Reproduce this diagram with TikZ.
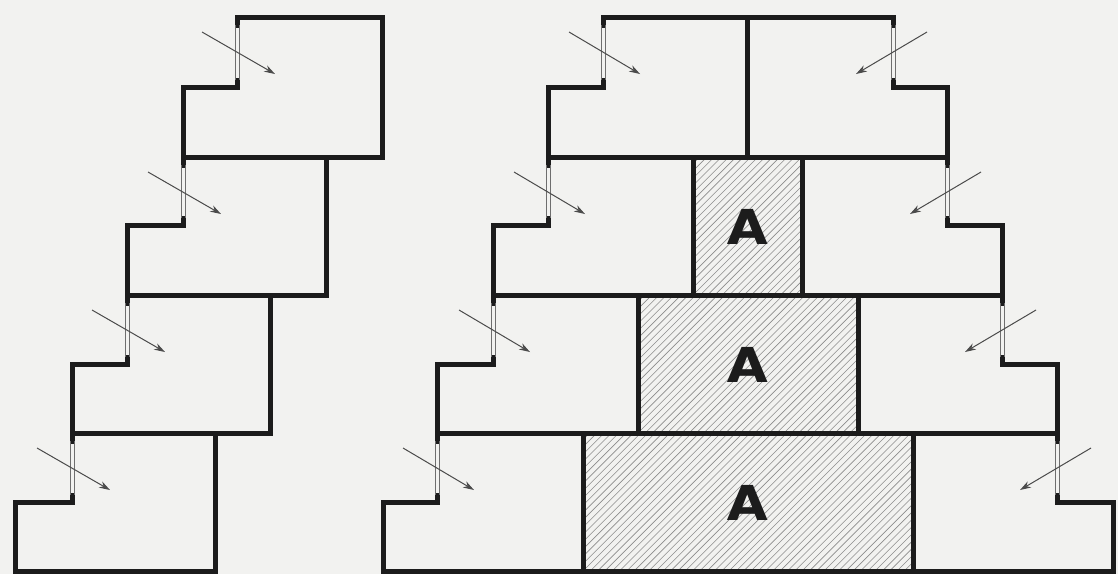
\documentclass[tikz,border=0pt]{standalone}
\usepackage{fontspec}
\newfontfamily\afont{Poppins}
\usetikzlibrary{arrows.meta}
\definecolor{bgc}{RGB}{242,242,240}
\definecolor{wallc}{RGB}{28,28,28}
\definecolor{winc}{RGB}{110,110,110}
\definecolor{arrc}{RGB}{75,75,75}
\definecolor{hatchc}{RGB}{140,140,140}
\begin{document}
\begin{tikzpicture}[x=1pt,y=-1pt,
  wall/.style={line width=5pt, draw=wallc, line join=miter, line cap=rect},
  win/.style={line width=0.6pt, draw=winc},
  arr/.style={line width=1pt, draw=arrc, -{Stealth[length=11pt,width=7pt]}},
  hatchline/.style={line width=0.6pt, draw=hatchc},
  letterA/.style={font=\afont\bfseries\fontsize{50}{50}\selectfont, text=wallc, inner sep=0pt, xscale=1.15}
]
\fill[bgc] (0,0) rectangle (1118,574);
\useasboundingbox (0,0) rectangle (1118,574);

% ---------- left column ----------
\foreach \w/\sl/\r/\t/\s/\b in {237/183/382/17/87/157, 183/127/326/157/225/295, 127/72/270/295/364/433, 72/15/215/433/502/571}
{
  \draw[wall] (\w,\t+8) -- (\w,\t) -- (\r,\t) -- (\r,\b) -- (\sl,\b) -- (\sl,\s) -- (\w,\s) -- (\w,\s-7);
  \draw[win] (\w-2,\t+8) -- (\w-2,\s-7) (\w+2,\t+8) -- (\w+2,\s-7);
  \coordinate (la) at (\w-35,\t+15);
  \coordinate (lb) at (\w+38,\t+57);
  \draw[arr] (la) -- (lb);
}

% ---------- right block: hatched cores ----------
\foreach \xa/\ya/\xb/\yb in {693/157/802/295, 638/295/858/433, 583/433/913/571}
{
  \begin{scope}
    \clip (\xa,\ya) rectangle (\xb,\yb);
    \foreach \i in {-50,...,50}
      \draw[hatchline] (\xa+\i*7.3,\yb) -- ++(200,-200);
  \end{scope}
}

% outer outline pieces
\draw[wall] (603,25) -- (603,17) -- (893,17) -- (893,25);
\foreach \w/\so/\s/\b in {603/548/87/157, 548/493/225/295, 493/437/364/433}
  \draw[wall] (\w,\s-7) -- (\w,\s) -- (\so,\s) -- (\so,\b+8);
\foreach \w/\so/\s/\b in {893/947/87/157, 947/1002/225/295, 1002/1057/364/433}
  \draw[wall] (\w,\s-7) -- (\w,\s) -- (\so,\s) -- (\so,\b+8);
\draw[wall] (437,495) -- (437,502) -- (383,502) -- (383,571) -- (1113,571) -- (1113,502) -- (1057,502) -- (1057,495);

% windows and arrows
\foreach \w/\t/\s in {603/17/87, 548/157/225, 493/295/364, 437/433/502}
{
  \draw[win] (\w-2,\t+8) -- (\w-2,\s-7) (\w+2,\t+8) -- (\w+2,\s-7);
  \coordinate (ra) at (\w-34,\t+15);
  \coordinate (rb) at (\w+37,\t+57);
  \draw[arr] (ra) -- (rb);
}
\foreach \w/\t/\s in {893/17/87, 947/157/225, 1002/295/364, 1057/433/502}
{
  \draw[win] (\w-2,\t+8) -- (\w-2,\s-7) (\w+2,\t+8) -- (\w+2,\s-7);
  \coordinate (ra) at (\w+34,\t+15);
  \coordinate (rb) at (\w-37,\t+57);
  \draw[arr] (ra) -- (rb);
}

% interior walls
\draw[wall] (548,157) -- (947,157);
\draw[wall] (493,295) -- (1002,295);
\draw[wall] (437,433) -- (1057,433);
\draw[wall] (747,17) -- (747,157);
\draw[wall] (693,157) -- (693,295) (802,157) -- (802,295);
\draw[wall] (638,295) -- (638,433) (858,295) -- (858,433);
\draw[wall] (583,433) -- (583,571) (913,433) -- (913,571);

% letters
\node[letterA] (a2) at (748,227) {A};
\node[letterA] (a3) at (748,365) {A};
\node[letterA] (a4) at (748,503) {A};
\end{tikzpicture}
\end{document}
